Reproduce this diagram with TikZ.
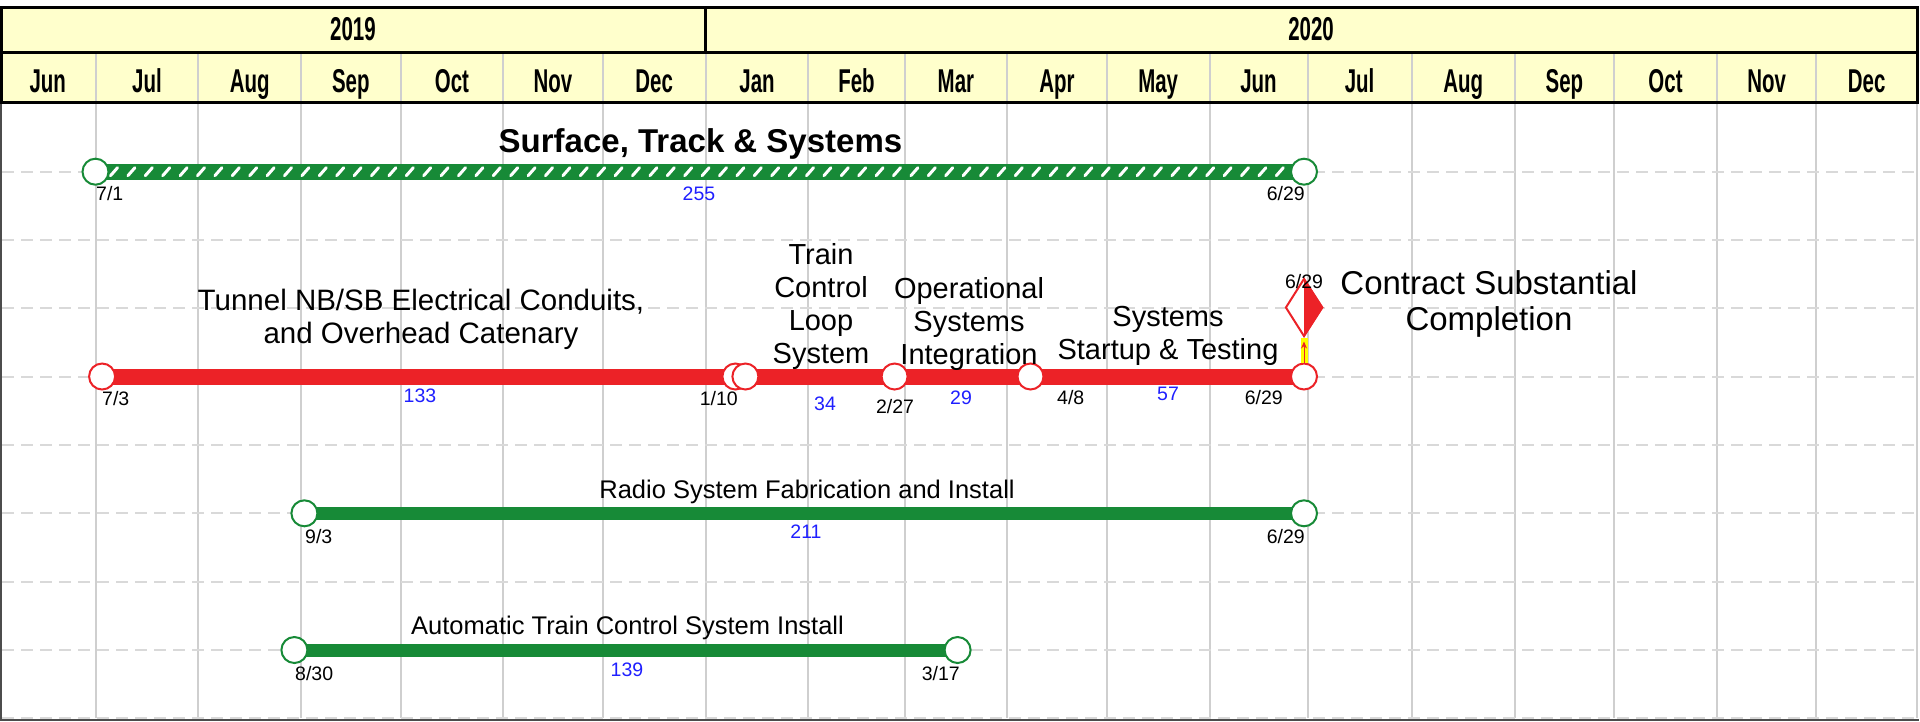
\documentclass[tikz,border=0pt]{standalone}
\usepackage{fontspec}
\setmainfont{Liberation Sans}
\newfontfamily\hdrf[FakeStretch=0.62]{Liberation Sans}
\usetikzlibrary{arrows.meta,shapes.geometric}
\definecolor{hdrfill}{HTML}{FFFFCC}
\definecolor{vgridc}{HTML}{CFCFCF}
\definecolor{hgridc}{HTML}{D9D9D9}
\definecolor{ganttgreen}{HTML}{178A37}
\definecolor{ganttred}{HTML}{EC2227}
\definecolor{numblue}{HTML}{1F1FFF}
\definecolor{milestoneyellow}{HTML}{FFFF00}
\begin{document}
\begin{tikzpicture}[x=1pt,y=-1pt,
  vgrid/.style={draw=vgridc,line width=2},
  hgrid/.style={draw=hgridc,line width=2,dash pattern=on 12pt off 7pt},
  hdrline/.style={draw=black,line width=3},
  hdrgrid/.style={draw=vgridc,line width=2},
  hdrtext/.style={font=\hdrf\bfseries\fontsize{33}{36}\selectfont,inner sep=0,anchor=base},
  hatchbar/.style={draw=ganttgreen,line width=16},
  greenbar/.style={draw=ganttgreen,line width=13},
  redbar/.style={draw=ganttred,line width=16},
  endpt/.style={circle,fill=white,line width=2,minimum size=26,inner sep=0},
  gpt/.style={endpt,draw=ganttgreen},
  rpt/.style={endpt,draw=ganttred},
  datelbl/.style={font=\fontsize{19.5}{22}\selectfont,inner sep=0,text=black},
  durlbl/.style={font=\fontsize{19.5}{22}\selectfont,inner sep=0,text=numblue,anchor=base},
  tasklbl/.style={font=\fontsize{29}{33}\selectfont,inner sep=0,align=center},
  smalltask/.style={font=\fontsize{25.5}{29}\selectfont,inner sep=0,anchor=base},
  hatch/.style={draw=white,line width=3,line cap=round}
]
\useasboundingbox (0,0) rectangle (1920,721);
\fill[white] (0,0) rectangle (1920,721);

% body grid
\foreach \x in {95.5,198.3,301.1,400.5,503.3,602.8,705.6,808.4,904.5,1007.3,1106.8,1209.6,1307.5,1411.8,1514.6,1614.1,1716.9,1816.3,1917}
  \draw[vgrid] (\x,103) -- (\x,718);
\foreach \y in {171.7,240,308.3,376.7,445,513.3,581.7,650,718.3}
  \draw[hgrid] (2,\y) -- (1917,\y);
\draw[draw=black!70,line width=2] (1,103) -- (1,720) -- (1919,720);

% header
\fill[hdrfill] (1,7) rectangle (1917,102);
\foreach \x in {95.5,198.3,301.1,400.5,503.3,602.8,705.6,808.4,904.5,1007.3,1106.8,1209.6,1307.5,1411.8,1514.6,1614.1,1716.9,1816.3}
  \draw[hdrgrid] (\x,52) -- (\x,102);
\draw[hdrline] (1,7) rectangle (1917,102);
\draw[hdrline] (1,52) -- (1917,52);
\draw[hdrline] (705.6,7) -- (705.6,52);
\node[hdrtext] (yr19) at (353,40) {2019};
\node[hdrtext] (yr20) at (1311,40) {2020};
\foreach \c/\m [count=\i] in {47.8/Jun,147/Jul,249.7/Aug,350.8/Sep,451.9/Oct,553/Nov,654.2/Dec,757/Jan,856.5/Feb,955.9/Mar,1057/Apr,1158.2/May,1258.5/Jun,1359.6/Jul,1463.2/Aug,1564.4/Sep,1665.5/Oct,1766.6/Nov,1866.7/Dec}
  \node[hdrtext] (mon\i) at (\c,92.5) {\m};

% ---------- Row 1: Surface, Track & Systems
\coordinate (a1) at (95.5,171.7);
\coordinate (a2) at (1304,171.7);
\draw[hatchbar] (a1) -- (a2);
\foreach \x in {114,131.4,...,1292}
  \draw[hatch] ({\x-3.5},175.7) -- ({\x+3.5},167.7);
\node[gpt] (s1) at (a1) {};
\node[gpt] (s2) at (a2) {};
\node[font=\bfseries\fontsize{33}{36}\selectfont,inner sep=0,anchor=base] (t1) at (700.5,152.5) {Surface, Track \& Systems};
\node[datelbl,anchor=base west] (d1a) at (96,200.5) {7/1};
\node[durlbl] (n1) at (699,200) {255};
\node[datelbl,anchor=base east] (d1b) at (1305,200.5) {6/29};

% ---------- Row 2: red chain
\coordinate (b1) at (102.1,376.5);
\coordinate (b2) at (735.4,376.5);
\coordinate (b3) at (745.4,376.5);
\coordinate (b4) at (894.6,376.5);
\coordinate (b5) at (1030.5,376.5);
\coordinate (b6) at (1304,376.5);
\draw[redbar] (b1) -- (b2);
\draw[redbar] (b3) -- (b4);
\draw[redbar] (b4) -- (b5);
\draw[redbar] (b5) -- (b6);
\node[rpt] (r1) at (b1) {};
\node[rpt] (r2) at (b2) {};
\node[rpt] (r3) at (b3) {};
\node[rpt] (r4) at (b4) {};
\node[rpt] (r5) at (b5) {};
\node[rpt] (r6) at (b6) {};

\node[tasklbl,font=\fontsize{29.5}{33}\selectfont] (t2) at (421,319.4) {Tunnel NB/SB Electrical Conduits,\\and Overhead Catenary};
\node[tasklbl] (t3) at (821,306.9) {Train\\Control\\Loop\\System};
\node[tasklbl] (t4) at (969,323.7) {Operational\\Systems\\Integration};
\node[tasklbl] (t5) at (1168,335.5) {Systems\\Startup \& Testing};

\node[datelbl,anchor=base west] (d2a) at (102,405) {7/3};
\node[durlbl] (n2) at (420,402) {133};
\node[datelbl,anchor=base east] (d2b) at (738,405) {1/10};
\node[durlbl] (n3) at (825,410) {34};
\node[datelbl,anchor=base] (d2c) at (895,413.5) {2/27};
\node[durlbl] (n4) at (961,404) {29};
\node[datelbl,anchor=base west] (d2d) at (1057,404) {4/8};
\node[durlbl] (n5) at (1168,400) {57};
\node[datelbl,anchor=base east] (d2e) at (1283,404) {6/29};

% milestone
\node[diamond,draw=ganttred,fill=white,line width=2,minimum width=37,minimum height=58,inner sep=0] (ms) at (1304,307.5) {};
\fill[ganttred] (ms.north) -- (ms.east) -- (ms.south) -- cycle;
\draw[draw=milestoneyellow,line width=7] (r6.north) -- (ms.south);
\draw[draw=ganttred,line width=1,shorten >=4,-{Stealth[length=7,width=6]}] (r6.north) -- (ms.south);
\node[datelbl,anchor=base] (dms) at (1304,288) {6/29};
\node[font=\fontsize{33}{36.5}\selectfont,inner sep=0,align=center] (t6) at (1489,304) {Contract Substantial\\Completion};

% ---------- Row 3: Radio
\coordinate (c1) at (304.4,513.3);
\coordinate (c2) at (1304,513.3);
\draw[greenbar] (c1) -- (c2);
\node[gpt] (g1) at (c1) {};
\node[gpt] (g2) at (c2) {};
\node[smalltask] (t7) at (807,498.5) {Radio System Fabrication and Install};
\node[datelbl,anchor=base west] (d3a) at (305,543) {9/3};
\node[durlbl] (n6) at (806,538) {211};
\node[datelbl,anchor=base east] (d3b) at (1305,543) {6/29};

% ---------- Row 4: ATC
\coordinate (e1) at (294.4,650);
\coordinate (e2) at (957.6,650);
\draw[greenbar] (e1) -- (e2);
\node[gpt] (h1) at (e1) {};
\node[gpt] (h2) at (e2) {};
\node[smalltask] (t8) at (627.5,634.5) {Automatic Train Control System Install};
\node[datelbl,anchor=base west] (d4a) at (295,680) {8/30};
\node[durlbl] (n7) at (627,676) {139};
\node[datelbl,anchor=base east] (d4b) at (960,680) {3/17};
\end{tikzpicture}
\end{document}
